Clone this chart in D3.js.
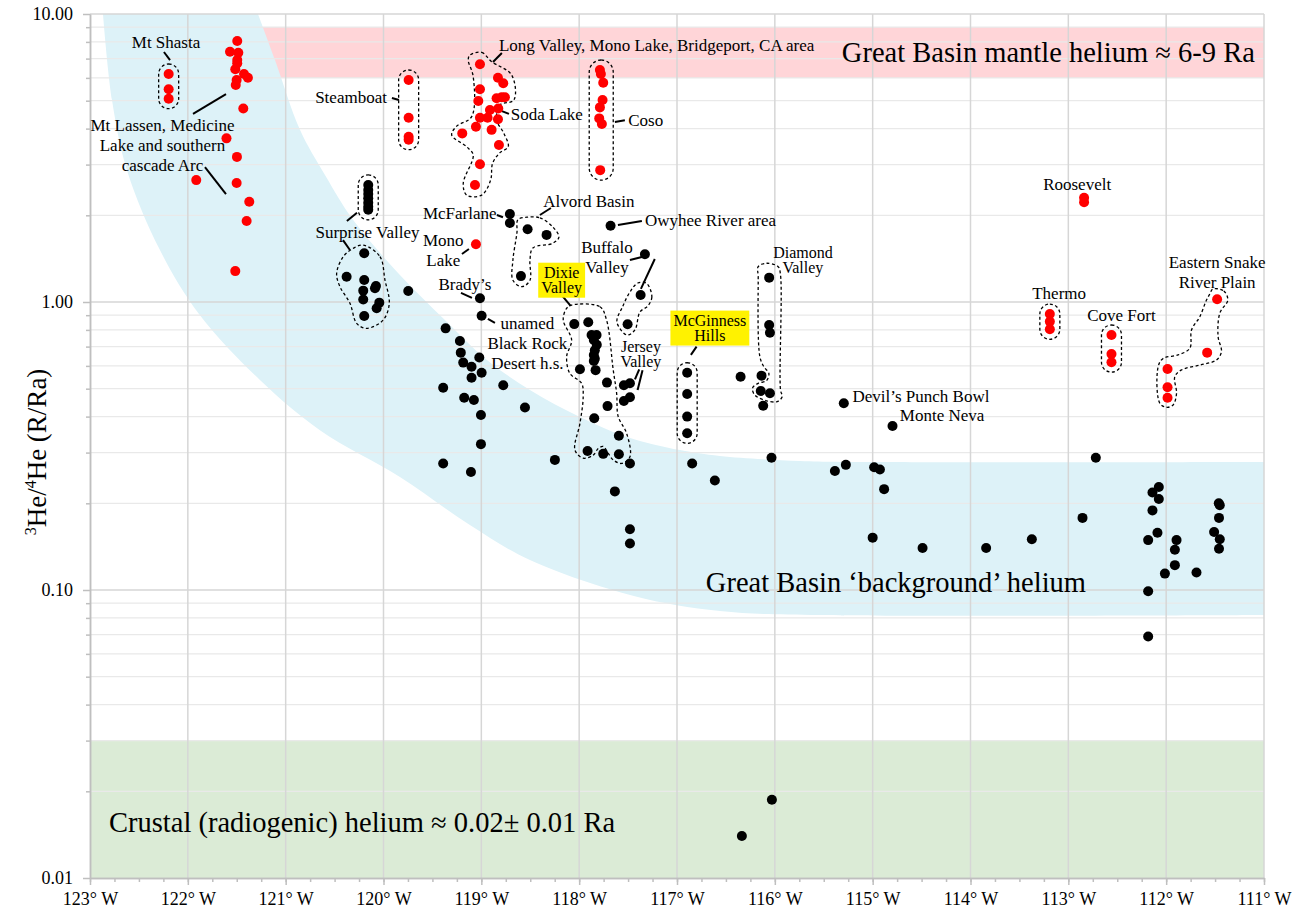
<!DOCTYPE html>
<html>
<head>
<meta charset="utf-8">
<script src="https://cdn.jsdelivr.net/npm/d3@7"></script>
<style>
body { margin: 0; background: #fff; }
text { font-family: "Liberation Serif", "Times New Roman", serif; fill: #000; }
</style>
</head>
<body>
<div class="content"></div>
<script>
// points are [longitude in degrees W, 3He/4He as R/Ra]
var mtShasta = [[122.196,6.19],[122.196,5.48],[122.196,5.08]];
var mtLassen = [[121.495,8.06],[121.569,7.40],[121.484,7.34],[121.495,6.92],[121.495,6.74],[121.515,6.43],
  [121.426,6.19],[121.386,6.01],[121.501,5.90],[121.51,5.67],[121.433,4.70],[121.605,3.70],[121.498,3.19],
  [121.914,2.65],[121.501,2.59],[121.372,2.23],[121.399,1.91],[121.515,1.28]];
var steamboat = [[119.743,5.90],[119.743,4.36],[119.743,3.75],[119.743,3.66]];
var longValley = [[119.014,6.69],[118.830,6.01],[118.776,5.75],[119.014,5.48],[119.031,4.99],[118.844,5.10],
  [118.792,5.14],[118.759,5.14],[118.912,4.64],[118.827,4.70],[119.014,4.36],[118.936,4.36],[118.830,4.31],
  [119.055,4.06],[118.895,3.96],[119.195,3.85],[118.820,3.51],[119.014,3.01],[119.065,2.55]];
var monoLake = [[119.055,1.586]];
var coso = [[117.788,6.39],[117.778,6.19],[117.754,5.77],[117.761,5.03],[117.788,4.74],[117.795,4.34],[117.768,4.15],[117.785,2.87]];
var roosevelt = [[112.839,2.30],[112.839,2.22]];
var thermo = [[113.189,0.908],[113.189,0.855],[113.189,0.804]];
var coveFort = [[112.559,0.768],[112.559,0.660],[112.559,0.618]];
var snakeRiver = [[111.479,1.022],[111.581,0.667],[111.986,0.585],[111.986,0.506],[111.986,0.465]];

var surpriseUpper = [[120.156,2.55],[120.156,2.45],[120.156,2.37],[120.156,2.29],[120.156,2.21],[120.156,2.14],[120.156,2.09]];
var surpriseLower = [[120.197,1.476],[120.377,1.224],[120.197,1.192],[120.077,1.137],[120.207,1.095],[120.087,1.116],
  [120.207,1.02],[120.043,0.995],[120.070,0.951],[120.197,0.894]];
var mcFarlane = [[118.708,2.02],[118.708,1.88]];
var alvord = [[118.527,1.79],[118.333,1.71],[118.595,1.23]];
var owyhee = [[117.679,1.84]];
var buffalo = [[117.328,1.464],[117.372,1.057],[117.505,0.837]];
var bradys = [[119.014,1.03],[118.997,0.896],[119.747,1.092]];
var blackRock = [[119.365,0.810],[119.219,0.732],[119.21,0.667],[119.021,0.642],[119.185,0.616],[119.10,0.596],
  [118.997,0.568],[119.10,0.546],[119.39,0.504],[118.776,0.514],[119.175,0.465],[119.076,0.457],[118.554,0.430],
  [119.004,0.405],[119.004,0.321],[119.39,0.275],[119.106,0.257],[118.248,0.283]];
var dixie = [[118.05,0.838],[117.907,0.850],[117.873,0.768],[117.822,0.768],[117.85,0.738],[117.82,0.71],
  [117.84,0.68],[117.85,0.655],[117.84,0.635],[117.85,0.624],[117.992,0.584],[117.832,0.580],[117.716,0.525],
  [117.71,0.435],[117.846,0.395],[117.594,0.343],[117.914,0.304],[117.754,0.297],[117.594,0.296],[117.481,0.275],
  [117.635,0.220],[117.481,0.1625],[117.481,0.145]];
var jersey = [[117.543,0.514],[117.481,0.522],[117.543,0.453],[117.481,0.467]];
var mcGinness = [[116.896,0.568],[116.896,0.479],[116.896,0.400],[116.896,0.350],[116.845,0.275],[116.613,0.240]];
var diamond = [[116.058,1.215],[116.058,0.832],[116.05,0.782],[116.136,0.555],[116.144,0.491],[116.05,0.482],
  [116.119,0.436],[116.35,0.550],[116.034,0.288]];
var eastNevada = [[115.295,0.445],[114.797,0.371],[115.386,0.259],[115.274,0.272],[114.985,0.267],[114.926,0.262],
  [114.883,0.224],[115.0,0.152],[114.49,0.140],[113.84,0.140],[113.373,0.150],[112.719,0.288],[112.855,0.178]];
var utahIdaho = [[112.075,0.228],[112.14,0.218],[112.075,0.207],[112.14,0.189],[112.089,0.158],[112.184,0.149],
  [111.894,0.149],[111.911,0.138],[111.911,0.122],[112.013,0.114],[111.69,0.115],[112.184,0.099],[112.184,0.069],
  [111.462,0.200],[111.452,0.197],[111.46,0.178],[111.51,0.159],[111.452,0.150],[111.46,0.139]];
var crustal = [[116.03,0.0187],[116.337,0.0140]];

// shaded helium ranges
var mantleBand = [121.35, 111, 6, 9];
var crustBand = [123, 111, 0.01, 0.03];
var backgroundOuter = [[122.867,10],[122.775,5.03],[122.622,2.87],[122.285,1.515],[121.886,0.909],[121.263,0.536],
  [120.650,0.359],[119.832,0.247],[119.117,0.168],[118.503,0.127],[117.441,0.0953],[116.562,0.0845],[115.540,0.0819],[111,0.0819]];
var backgroundInner = [[121.283,10],[121.109,6.92],[120.854,3.96],[120.598,2.76],[120.312,1.93],[119.832,1.241],
  [119.372,0.866],[118.943,0.629],[118.503,0.495],[117.992,0.399],[117.512,0.340],[116.970,0.306],[116.562,0.292],
  [115.744,0.2805],[114.927,0.278],[111,0.278]];

// hand-drawn dashed outlines
var longValleyOutline = [[119.117,7.20],[118.997,7.36],[118.895,6.83],[118.690,6.14],[118.667,5.03],[118.810,4.83],
  [118.844,4.29],[118.769,3.85],[118.725,3.46],[118.810,3.30],[118.885,3.03],[118.905,2.65],[118.997,2.35],[119.150,2.35],
  [119.185,2.58],[119.083,3.24],[119.150,3.46],[119.303,3.80],[119.252,4.08],[119.099,4.40],[119.083,6.06],[119.134,6.92]];
var dixieOutline = [[118.077,0.976],[117.788,0.963],[117.720,0.866],[117.652,0.581],[117.617,0.482],[117.601,0.400],
  [117.515,0.350],[117.481,0.290],[117.566,0.275],[117.652,0.283],[117.703,0.298],[117.754,0.315],[117.805,0.310],
  [117.856,0.294],[117.959,0.287],[118.043,0.306],[117.992,0.379],[117.959,0.469],[117.975,0.522],[118.095,0.565],
  [118.128,0.646],[118.077,0.738],[118.163,0.866],[118.128,0.951]];
var alvordOutline = [[118.534,1.97],[118.401,1.96],[118.268,1.82],[118.207,1.68],[118.268,1.60],[118.473,1.54],
  [118.503,1.40],[118.503,1.19],[118.585,1.13],[118.677,1.19],[118.677,1.40],[118.636,1.74],[118.626,1.93]];
var diamondOutline = [[116.170,1.326],[116.085,1.363],[115.966,1.326],[115.942,1.241],[115.942,0.495],[115.925,0.469],
  [115.976,0.451],[116.085,0.454],[116.204,0.475],[116.228,0.502],[116.170,0.522],[116.085,0.533],[116.061,0.565],
  [116.112,0.596],[116.153,0.646],[116.170,1.224]];
var snakeOutline = [[111.523,1.11],[111.411,1.092],[111.370,1.016],[111.452,0.914],[111.469,0.758],[111.435,0.672],
  [111.486,0.629],[111.656,0.604],[111.843,0.581],[111.912,0.550],[111.894,0.482],[111.929,0.439],[111.996,0.431],
  [112.065,0.445],[112.082,0.596],[112.031,0.637],[111.878,0.655],[111.758,0.691],[111.741,0.799],[111.656,0.889],
  [111.588,1.016],[111.554,1.066]];
var surpriseOutline = [[120.207,1.577],[120.036,1.437],[119.985,1.192],[119.941,0.990],[120.003,0.866],[120.172,0.810],
  [120.274,0.843],[120.343,0.990],[120.445,1.130],[120.479,1.258],[120.411,1.437],[120.309,1.536]];
var buffaloOutline = [[117.311,1.161],[117.257,1.041],[117.298,0.969],[117.379,0.923],[117.430,0.800],[117.512,0.768],
  [117.614,0.852],[117.556,0.963],[117.481,1.083],[117.400,1.164]];

var leaders = [
  [[122.244,7.38],[122.182,6.92]], [[121.947,4.50],[121.610,5.27]], [[121.825,2.94],[121.610,2.37]],
  [[119.914,5.11],[119.842,5.03]], [[118.790,7.32],[118.881,6.81]], [[118.790,4.60],[118.718,4.50]],
  [[117.635,4.22],[117.533,4.28]], [[120.374,1.91],[120.271,2.04]], [[120.414,1.64],[120.343,1.515]],
  [[118.841,2.005],[118.779,1.97]], [[118.401,2.005],[118.289,2.12]], [[119.198,1.468],[119.127,1.527]],
  [[119.208,1.075],[119.096,1.033]], [[118.933,0.873],[118.861,0.846]], [[118.179,1.057],[118.087,0.969]],
  [[117.481,1.399],[117.359,1.433]], [[117.227,1.41],[117.369,1.11]], [[117.604,1.85],[117.359,1.91]],
  [[117.386,0.584],[117.430,0.539]], [[117.352,0.580],[117.403,0.495]], [[116.800,0.700],[116.858,0.655]]];

var siteLabels = [
  {lines: ["Mt Shasta"], at: [122.223,8.00], anchor: "middle"},
  {lines: ["Mt Lassen, Medicine", "Lake and southern", "cascade Arc"], at: [122.259,4.12], anchor: "middle"},
  {lines: ["Steamboat"], at: [119.965,5.15], anchor: "end"},
  {lines: ["Long Valley, Mono Lake, Bridgeport, CA area"], at: [118.820,7.80], anchor: "start"},
  {lines: ["Soda Lake"], at: [118.700,4.50], anchor: "start"},
  {lines: ["Coso"], at: [117.498,4.28], anchor: "start"},
  {lines: ["Surprise Valley"], at: [120.164,1.754], anchor: "middle"},
  {lines: ["McFarlane"], at: [118.844,2.03], anchor: "end"},
  {lines: ["Alvord Basin"], at: [118.367,2.25], anchor: "start"},
  {lines: ["Mono", "Lake"], at: [119.389,1.64], anchor: "middle"},
  {lines: ["Brady\u2019s"], at: [119.168,1.152], anchor: "middle"},
  {lines: ["unamed", "Black Rock", "Desert h.s."], at: [118.529,0.843], anchor: "middle"},
  {lines: ["Dixie", "Valley"], at: [118.179,1.264], anchor: "middle", gap: 15, size: 16, mark: true},
  {lines: ["Buffalo", "Valley"], at: [117.716,1.556], anchor: "middle"},
  {lines: ["Owyhee River area"], at: [117.328,1.93], anchor: "start"},
  {lines: ["Jersey", "Valley"], at: [117.369,0.703], anchor: "middle", gap: 15, size: 16},
  {lines: ["McGinness", "Hills"], at: [116.664,0.862], anchor: "middle", gap: 15, size: 16, mark: true},
  {lines: ["Diamond", "Valley"], at: [115.713,1.483], anchor: "middle", gap: 15, size: 16},
  {lines: ["Devil\u2019s Punch Bowl"], at: [115.206,0.473], anchor: "start"},
  {lines: ["Monte Neva"], at: [114.722,0.405], anchor: "start"},
  {lines: ["Thermo"], at: [113.094,1.077], anchor: "middle"},
  {lines: ["Roosevelt"], at: [112.910,2.57], anchor: "middle"},
  {lines: ["Cove Fort"], at: [112.457,0.901], anchor: "middle"},
  {lines: ["Eastern Snake", "River Plain"], at: [111.479,1.38], anchor: "middle"}];

var bandLabels = [
  {text: "Great Basin mantle helium \u2248 6-9 Ra", at: [111.094,7.38], anchor: "end"},
  {text: "Great Basin \u2018background\u2019 helium", at: [116.705,0.1066], anchor: "start"},
  {text: "Crustal (radiogenic) helium \u2248 0.02\u00b1 0.01 Ra", at: [122.806,0.01565], anchor: "start"}];

var width = 1295, height = 909;
var plotLeft = 90, plotRight = 1264, plotTop = 14, plotBottom = 878;
var svg = d3.select(".content").append("svg").attr("width", width).attr("height", height);
var x = d3.scaleLinear().domain([123, 111]).range([plotLeft, plotRight]);
var y = d3.scaleLog().domain([0.01, 10]).range([plotBottom, plotTop]);

// bands
svg.append("rect").attr("x", x(mantleBand[0])).attr("width", x(mantleBand[1]) - x(mantleBand[0]))
  .attr("y", y(mantleBand[3])).attr("height", y(mantleBand[2]) - y(mantleBand[3])).attr("fill", "#ffd5d8");
svg.append("rect").attr("x", x(crustBand[0])).attr("width", x(crustBand[1]) - x(crustBand[0]))
  .attr("y", y(crustBand[3])).attr("height", y(crustBand[2]) - y(crustBand[3])).attr("fill", "#dbebd6");
var edge = d3.line().x(function(d){ return x(d[0]); }).y(function(d){ return y(d[1]); }).curve(d3.curveCatmullRom);
var innerBack = backgroundInner.slice().reverse();
svg.append("path").attr("d", edge(backgroundOuter) + "L" + edge(innerBack).slice(1) + "Z").attr("fill", "#ddf2f8");

// grid
var minorVals = [], majorVals = [0.01, 0.1, 1, 10];
[0.01, 0.1, 1].forEach(function(b){ for (var k = 2; k < 10; k++) minorVals.push(b * k); });
svg.append("g").selectAll("line").data(minorVals).enter().append("line")
  .attr("x1", plotLeft).attr("x2", plotRight).attr("y1", y).attr("y2", y).attr("stroke", "#e9e9e9").attr("stroke-width", 1.3);
svg.append("g").selectAll("line").data(majorVals.slice(1)).enter().append("line")
  .attr("x1", plotLeft).attr("x2", plotRight).attr("y1", y).attr("y2", y).attr("stroke", "#d6d6d6").attr("stroke-width", 1.5);
svg.append("g").selectAll("line").data(d3.range(122, 110.5, -1)).enter().append("line")
  .attr("x1", x).attr("x2", x).attr("y1", plotTop).attr("y2", plotBottom).attr("stroke", "#d6d6d6").attr("stroke-width", 1.5);

// axes
function greyAxis(g) {
  g.selectAll("path, line").attr("stroke", "#bfbfbf").attr("stroke-width", 1.5);
  g.selectAll("text").style("font-family", "'Liberation Serif', serif").style("font-size", "18px").attr("fill", "#000");
}
svg.append("g").attr("transform", "translate(0," + plotBottom + ")")
  .call(d3.axisBottom(x).tickValues(d3.range(123, 110.9, -0.25)).tickSize(4).tickSizeOuter(0).tickFormat(""))
  .call(greyAxis);
svg.append("g").attr("transform", "translate(0," + plotBottom + ")")
  .call(d3.axisBottom(x).tickValues(d3.range(123, 110.9, -1)).tickSize(7).tickSizeOuter(0).tickPadding(7)
    .tickFormat(function(d){ return d + "\u00b0 W"; }))
  .call(greyAxis);
svg.append("g").attr("transform", "translate(" + plotLeft + ",0)")
  .call(d3.axisLeft(y).tickValues(minorVals).tickSize(4).tickSizeOuter(0).tickFormat(""))
  .call(greyAxis);
svg.append("g").attr("transform", "translate(" + plotLeft + ",0)")
  .call(d3.axisLeft(y).tickValues(majorVals).tickSize(7).tickSizeOuter(0).tickPadding(10).tickFormat(d3.format(".2f")))
  .call(greyAxis);

var ylab = svg.append("text").attr("transform", "translate(46," + ((plotTop + plotBottom) / 2 + 6) + ") rotate(-90)")
  .attr("text-anchor", "middle").style("font-size", "27px");
ylab.append("tspan").attr("font-size", "16px").attr("dy", "-10").text("3");
ylab.append("tspan").attr("dy", "10").text("He/");
ylab.append("tspan").attr("font-size", "16px").attr("dy", "-10").text("4");
ylab.append("tspan").attr("dy", "10").text("He (R/Ra)");

// outlines
var loop = d3.line().x(function(d){ return x(d[0]); }).y(function(d){ return y(d[1]); }).curve(d3.curveCatmullRomClosed.alpha(0.5));
var outlines = svg.append("g").attr("fill", "none").attr("stroke", "#000").attr("stroke-width", 1.3).attr("stroke-dasharray", "3,2.5");
[longValleyOutline, dixieOutline, alvordOutline, diamondOutline, snakeOutline, surpriseOutline, buffaloOutline].forEach(function(o){
  outlines.append("path").attr("d", loop(o));
});
[mtShasta, steamboat, coso, surpriseUpper, thermo, coveFort, mcGinness.slice(0, 4)].forEach(function(grp){
  var xs = grp.map(function(d){ return x(d[0]); }), ys = grp.map(function(d){ return y(d[1]); });
  var pad = 10, x0 = d3.min(xs) - pad, x1 = d3.max(xs) + pad, y0 = d3.min(ys) - pad, y1 = d3.max(ys) + pad;
  var r = (x1 - x0) / 2;
  outlines.append("rect").attr("x", x0).attr("y", y0).attr("width", x1 - x0).attr("height", y1 - y0).attr("rx", r).attr("ry", r);
});

// leader lines
svg.append("g").selectAll("line").data(leaders).enter().append("line")
  .attr("x1", function(d){ return x(d[0][0]); }).attr("y1", function(d){ return y(d[0][1]); })
  .attr("x2", function(d){ return x(d[1][0]); }).attr("y2", function(d){ return y(d[1][1]); })
  .attr("stroke", "#000").attr("stroke-width", 2);

// points
var red = [].concat(mtShasta, mtLassen, steamboat, longValley, monoLake, coso, roosevelt, thermo, coveFort, snakeRiver);
var black = [].concat(surpriseUpper, surpriseLower, mcFarlane, alvord, owyhee, buffalo, bradys, blackRock, dixie, jersey,
  mcGinness, diamond, eastNevada, utahIdaho, crustal);
svg.append("g").selectAll("circle").data(black).enter().append("circle")
  .attr("cx", function(d){ return x(d[0]); }).attr("cy", function(d){ return y(d[1]); }).attr("r", 5).attr("fill", "#000");
svg.append("g").selectAll("circle").data(red).enter().append("circle")
  .attr("cx", function(d){ return x(d[0]); }).attr("cy", function(d){ return y(d[1]); }).attr("r", 5).attr("fill", "#ff0000");

// site labels
siteLabels.forEach(function(L){
  var gap = L.gap || 20, px = x(L.at[0]), py = y(L.at[1]);
  var g = svg.append("g");
  var t = g.append("text").attr("text-anchor", L.anchor).style("font-size", (L.size || 17) + "px");
  L.lines.forEach(function(s, i){
    t.append("tspan").attr("x", px).attr("y", py + i * gap).attr("dy", "0.35em").text(s);
  });
  if (L.mark) {
    var bb = t.node().getBBox();
    g.insert("rect", "text").attr("x", bb.x - 3).attr("width", bb.width + 6)
      .attr("y", py - gap / 2 - 2.5).attr("height", gap * L.lines.length + 5).attr("fill", "#fff200");
  }
});

bandLabels.forEach(function(L){
  svg.append("text").attr("x", x(L.at[0])).attr("y", y(L.at[1])).attr("dy", "0.35em")
    .attr("text-anchor", L.anchor).style("font-size", "28.5px").text(L.text);
});
</script>
</body>
</html>
